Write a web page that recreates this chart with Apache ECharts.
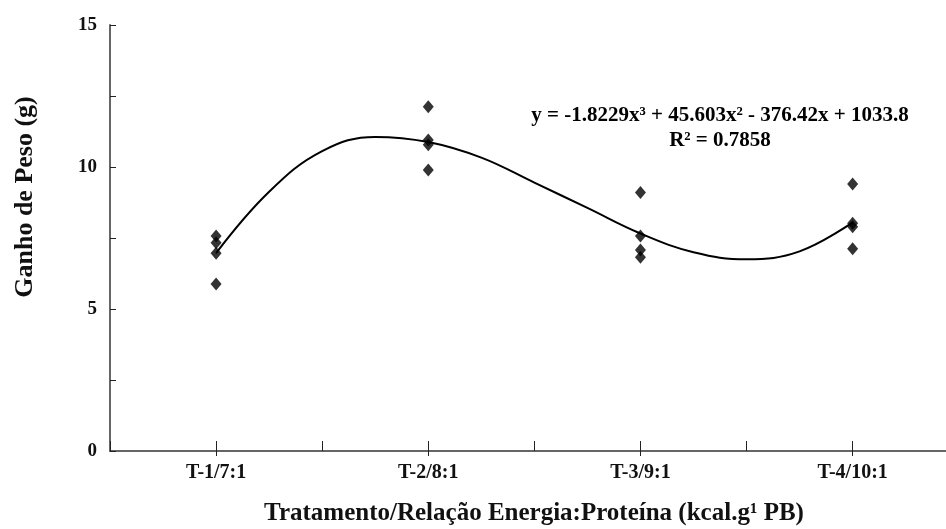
<!DOCTYPE html>
<html>
<head>
<meta charset="utf-8">
<script src="https://cdn.jsdelivr.net/npm/echarts@6/dist/echarts.min.js"></script>
<style>
  html, body { margin: 0; padding: 0; background: #fff; }
  #root { width: 946px; height: 529px; }
</style>
</head>
<body>
<div id="root"></div>
<script>
// categorias do eixo x (posicoes 1..4)
var categories = ['T-1/7:1', 'T-2/8:1', 'T-3/9:1', 'T-4/10:1'];
var yTicks = [0, 5, 10, 15];

// ganho de peso observado por tratamento
var t1 = [7.57, 7.33, 6.96, 5.88];
var t2 = [12.12, 10.95, 10.78, 9.89];
var t3 = [9.10, 7.57, 7.08, 6.82];
var t4 = [9.40, 8.02, 7.90, 7.12];

// curva de tendencia
var curveX = [1.00, 1.25, 1.50, 1.75, 2.00, 2.25, 2.50, 2.75, 3.00, 3.25, 3.50, 3.75, 4.00];
var curveY = [6.97, 9.13, 10.56, 11.06, 10.88, 10.33, 9.45, 8.56, 7.66, 7.00, 6.75, 7.03, 8.05];

var font = 'Liberation Serif';

var points = [];
[t1, t2, t3, t4].forEach(function(group, i) {
  group.forEach(function(v) {
    points.push([i + 1, v]);
  });
});

var curve = curveX.map(function(x, i) {
  return [x, curveY[i]];
});

var myChart = echarts.init(document.getElementById('root'));

myChart.setOption({
  animation: false,
  grid: {
    left: 110,
    right: 0,
    top: 25,
    bottom: 78
  },
  xAxis: [
    {
      // eixo com a linha e os tracos internos
      type: 'value',
      min: 0.5,
      max: 4.44,
      interval: 0.5,
      axisLine: { show: true, lineStyle: { color: '#666', width: 2 } },
      axisTick: { show: true, inside: true, length: 10, lineStyle: { color: '#222', width: 1 } },
      axisLabel: { show: false },
      splitLine: { show: false }
    },
    {
      // tracos externos e rotulos das categorias
      type: 'value',
      min: 0.5,
      max: 4.44,
      position: 'bottom',
      axisLine: { show: false },
      axisTick: {
        show: true,
        length: 5,
        customValues: [1, 2, 3, 4],
        lineStyle: { color: '#222', width: 1 }
      },
      axisLabel: {
        customValues: [1, 2, 3, 4],
        margin: 12,
        fontFamily: font,
        fontWeight: 'bold',
        fontSize: 20,
        color: '#111',
        formatter: function(v) {
          return categories[Math.round(v) - 1];
        }
      },
      splitLine: { show: false }
    }
  ],
  yAxis: {
    type: 'value',
    min: 0,
    max: 15,
    interval: 2.5,
    axisLine: { show: true, lineStyle: { color: '#666', width: 2 } },
    axisTick: { show: true, inside: true, length: 6, lineStyle: { color: '#222', width: 1 } },
    axisLabel: {
      customValues: yTicks,
      margin: 13,
      fontFamily: font,
      fontWeight: 'bold',
      fontSize: 19,
      color: '#111'
    },
    splitLine: { show: false }
  },
  graphic: [
    {
      type: 'text',
      x: 25,
      y: 197,
      rotation: Math.PI / 2,
      style: {
        text: 'Ganho de Peso (g)',
        font: 'bold 26px ' + font,
        fill: '#111',
        align: 'center',
        verticalAlign: 'middle'
      }
    },
    {
      type: 'text',
      x: 534,
      y: 514,
      style: {
        text: 'Tratamento/Relação Energia:Proteína (kcal.g¹ PB)',
        font: 'bold 25px ' + font,
        fill: '#111',
        align: 'center',
        verticalAlign: 'middle'
      }
    },
    {
      type: 'text',
      x: 720,
      y: 128,
      style: {
        text: 'y = -1.8229x³ + 45.603x² - 376.42x + 1033.8\nR² = 0.7858',
        font: 'bold 21px ' + font,
        lineHeight: 25,
        fill: '#000',
        align: 'center',
        verticalAlign: 'middle'
      }
    }
  ],
  series: [
    {
      name: 'Tendência',
      type: 'line',
      xAxisIndex: 0,
      data: curve,
      smooth: 0.4,
      showSymbol: false,
      lineStyle: { color: '#000', width: 2 },
      z: 2
    },
    {
      name: 'Ganho de Peso',
      type: 'scatter',
      xAxisIndex: 0,
      data: points,
      symbol: 'diamond',
      symbolSize: [11, 13],
      itemStyle: { color: '#000' },
      z: 3
    }
  ]
});
</script>
</body>
</html>
